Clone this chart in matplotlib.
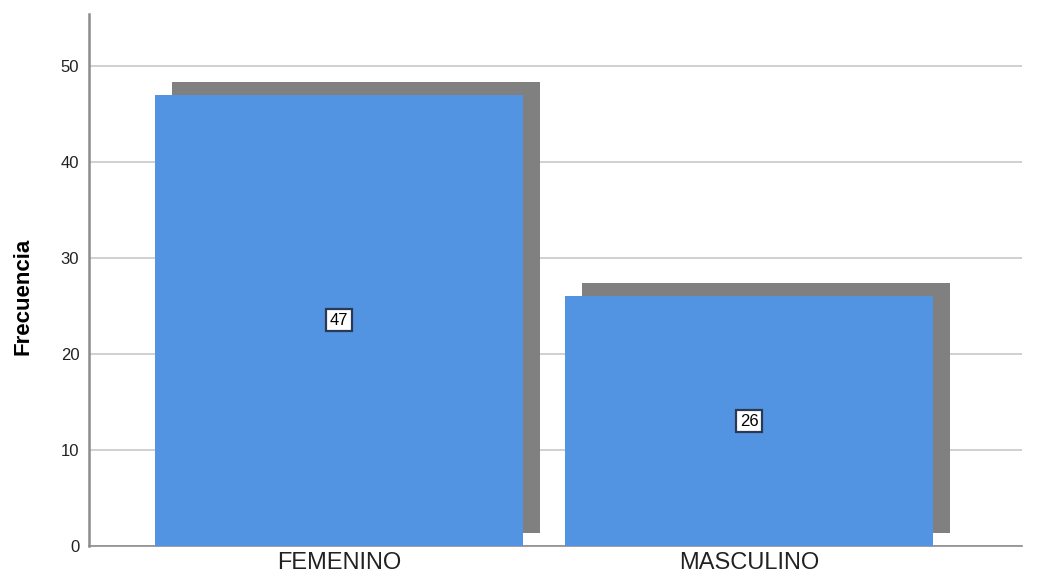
import matplotlib.pyplot as plt
import matplotlib.transforms as mtransforms

categorias = ['FEMENINO', 'MASCULINO']
frecuencia = [47, 26]
ticks_y = [0, 10, 20, 30, 40, 50]

plt.rcParams['font.family'] = ['Liberation Sans', 'DejaVu Sans']

fig = plt.figure(figsize=(10.38, 5.78), dpi=100)
ax = fig.add_axes([89 / 1038, 32 / 578, 933 / 1038, 532 / 578])

x = list(range(len(categorias)))
ancho = 0.898

# sombra desplazada arriba a la derecha
sombra = ax.transData + mtransforms.ScaledTranslation(17 / 100, 13 / 100, fig.dpi_scale_trans)
ax.bar(x, frecuencia, width=ancho, color='#808080', transform=sombra, zorder=2)
ax.bar(x, frecuencia, width=ancho, color='#5294E2', zorder=3)

for i, v in zip(x, frecuencia):
    ax.text(i, v / 2, str(v), ha='center', va='center', fontsize=12, zorder=4,
            bbox=dict(boxstyle='square,pad=0.22', fc='white', ec='#2A3A55', lw=1.6))

ax.set_xlim(-0.610, 1.666)
ax.set_ylim(0, 55.4)
ax.set_yticks(ticks_y)
ax.set_xticks(x)
ax.set_xticklabels(categorias, fontsize=17, color='#222222')
ax.tick_params(axis='y', length=0, labelsize=12, pad=7, labelcolor='#222222')
ax.tick_params(axis='x', length=0, pad=4)
ax.yaxis.grid(True, color='#C8C8C8', lw=1.2, zorder=0)
ax.set_axisbelow(True)

for s in ['top', 'right']:
    ax.spines[s].set_visible(False)
ax.spines['left'].set_color('#8C8C8C')
ax.spines['left'].set_linewidth(1.8)
ax.spines['bottom'].set_color('#8C8C8C')
ax.spines['bottom'].set_linewidth(1.2)

ax.set_ylabel('Frecuencia', fontsize=16, fontweight='bold')
ax.yaxis.set_label_coords(-0.059, 0.47)

fig.savefig('out.png', dpi=100)
